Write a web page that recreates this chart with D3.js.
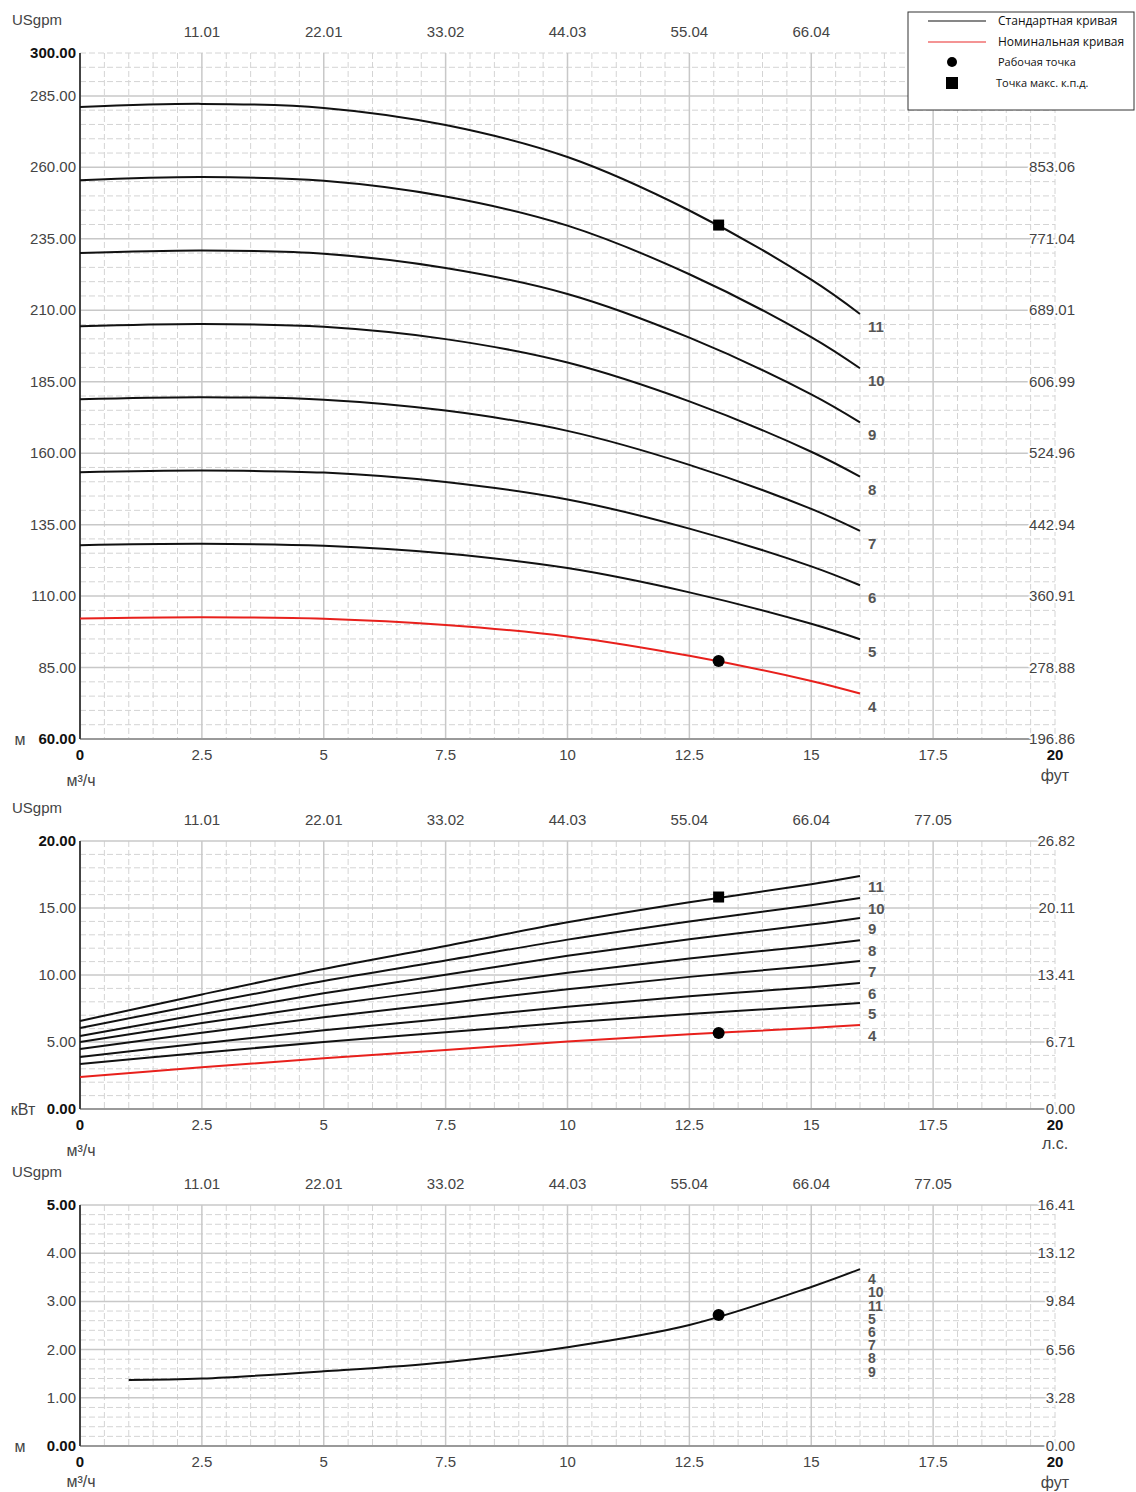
<!DOCTYPE html>
<html lang="ru">
<head>
<meta charset="UTF-8">
<title>Pump curves</title>
<script src="https://d3js.org/d3.v7.min.js"></script>
<style>
  body { margin: 0; padding: 0; background: #fff; }
  svg { display: block; font-family: "Liberation Sans", Arial, sans-serif; }
  .grid-major { stroke: #c8c8c8; stroke-width: 1.5; }
  .grid-minor { stroke: #d4d4d4; stroke-width: 1; stroke-dasharray: 6,3; }
  .tick { font-size: 15px; fill: #444; }
  .tick-bold { font-size: 15px; fill: #111; font-weight: bold; }
  .unit { font-size: 16px; fill: #444; }
  .halo { paint-order: stroke; stroke: #fff; stroke-width: 4px; stroke-linejoin: round; }
  .stage { font-size: 15px; font-weight: bold; fill: #555; }
  .stage-small { font-size: 14px; font-weight: bold; fill: #555; }
  .curve { fill: none; stroke: #111; stroke-width: 2; }
  .curve-red { fill: none; stroke: #e8201c; stroke-width: 2; }
  .legend { font-family: "Open Sans", sans-serif; fill: #111; }
</style>
</head>
<body>
<svg width="1136" height="1492"></svg>
<script>
// flow points, m3/h
const flow = [0, 2.5, 5, 7.5, 10, 12.5, 15, 16];
const stages = [11, 10, 9, 8, 7, 6, 5, 4];

// head, m (one row per stage, same order as stages)
const headCurves = [
  [281.1, 282.2, 280.8, 274.8, 263.6, 244.9, 220.7, 208.7],
  [255.5, 256.6, 255.3, 249.8, 239.6, 222.6, 200.6, 189.7],
  [230.0, 230.9, 229.8, 224.8, 215.7, 200.4, 180.6, 170.8],
  [204.4, 205.2, 204.2, 199.9, 191.7, 178.1, 160.5, 151.8],
  [178.9, 179.6, 178.7, 174.9, 167.8, 155.9, 140.5, 132.8],
  [153.3, 153.9, 153.2, 149.9, 143.8, 133.6, 120.4, 113.8],
  [127.8, 128.3, 127.6, 124.9, 119.8, 111.3, 100.3, 94.9],
  [102.2, 102.6, 102.1, 99.9, 95.9, 89.1, 80.3, 75.9]
];

// power, kW
const powerCurves = [
  [6.57, 8.55, 10.45, 12.17, 13.93, 15.43, 16.77, 17.39],
  [6.04, 7.84, 9.55, 11.08, 12.64, 14.00, 15.21, 15.75],
  [5.45, 7.08, 8.63, 10.02, 11.43, 12.67, 13.76, 14.25],
  [5.00, 6.41, 7.74, 8.94, 10.17, 11.23, 12.17, 12.60],
  [4.48, 5.69, 6.85, 7.88, 8.94, 9.86, 10.67, 11.04],
  [3.88, 4.90, 5.87, 6.74, 7.63, 8.41, 9.09, 9.40],
  [3.36, 4.20, 5.00, 5.72, 6.45, 7.09, 7.66, 7.91],
  [2.39, 3.11, 3.79, 4.40, 5.03, 5.57, 6.05, 6.27]
];

// NPSH, m
const npshFlow = [1, 2.5, 5, 7.5, 10, 12.5, 15, 16];
const npshValues = [1.37, 1.40, 1.55, 1.74, 2.05, 2.51, 3.30, 3.67];
const npshStageOrder = [4, 10, 11, 5, 6, 7, 8, 9];

// operating point and best efficiency point
const dutyPoint = { flow: 13.1, head: 87.3, power: 5.67, npsh: 2.72 };
const bepPoint = { flow: 13.1, head: 239.8, power: 15.82 };

const xTicks = [0, 2.5, 5, 7.5, 10, 12.5, 15, 17.5, 20];
const usgpmLabels = ["11.01", "22.01", "33.02", "44.03", "55.04", "66.04", "77.05"];

const headTicks = [60, 85, 110, 135, 160, 185, 210, 235, 260, 285, 300];
const headFtLabels = ["196.86", "278.88", "360.91", "442.94", "524.96", "606.99", "689.01", "771.04", "853.06", "", ""];
const powerTicks = [0, 5, 10, 15, 20];
const powerHpLabels = ["0.00", "6.71", "13.41", "20.11", "26.82"];
const npshTicks = [0, 1, 2, 3, 4, 5];
const npshFtLabels = ["0.00", "3.28", "6.56", "9.84", "13.12", "16.41"];

const legendItems = ["Стандартная кривая", "Номинальная кривая", "Рабочая точка", "Точка макс. к.п.д."];

const svg = d3.select("svg");
const x = d3.scaleLinear().domain([0, 20]).range([80, 1055]);
const line = (xs, ys, y) => d3.line()
    .x(function(d, i) { return x(xs[i]); })
    .y(function(d, i) { return y(ys[i]); })
    .curve(d3.curveCatmullRom.alpha(0.5))(ys);

function panel(cfg) {
    const g = svg.append("g");
    const y = d3.scaleLinear().domain(cfg.domain).range([cfg.bottom, cfg.top]);

    // minor grid
    const minorY = d3.range(cfg.domain[0], cfg.domain[1] + 1e-9, cfg.minor)
        .filter(v => cfg.ticks.indexOf(+v.toFixed(4)) < 0 || v === cfg.domain[1] && !cfg.topMajor);
    g.selectAll(".my").data(minorY).enter().append("line")
        .attr("class", "grid-minor")
        .attr("x1", x(0)).attr("x2", x(20))
        .attr("y1", d => y(d)).attr("y2", d => y(d));
    const minorX = d3.range(0.5, 20.01, 0.5).filter(v => v % 2.5 !== 0 || v === 20);
    g.selectAll(".mx").data(minorX).enter().append("line")
        .attr("class", "grid-minor")
        .attr("x1", d => x(d)).attr("x2", d => x(d))
        .attr("y1", cfg.top).attr("y2", cfg.bottom);

    // major grid
    const majorY = cfg.ticks.filter(v => v !== cfg.domain[0] && (v !== cfg.domain[1] || cfg.topMajor));
    g.selectAll(".My").data(majorY).enter().append("line")
        .attr("class", "grid-major")
        .attr("x1", x(0)).attr("x2", x(20))
        .attr("y1", d => y(d)).attr("y2", d => y(d));
    g.selectAll(".Mx").data(xTicks.slice(1, -1)).enter().append("line")
        .attr("class", "grid-major")
        .attr("x1", d => x(d)).attr("x2", d => x(d))
        .attr("y1", cfg.top).attr("y2", cfg.bottom);

    // axes lines
    g.append("line").attr("x1", x(0)).attr("x2", x(20)).attr("y1", cfg.bottom).attr("y2", cfg.bottom)
        .attr("stroke", "#9a9a9a").attr("stroke-width", 2);
    g.append("line").attr("x1", x(0)).attr("x2", x(0)).attr("y1", cfg.top).attr("y2", cfg.bottom)
        .attr("stroke", "#444").attr("stroke-width", 2);

    // left tick labels
    g.selectAll(".ly").data(cfg.ticks).enter().append("text")
        .attr("class", (d, i) => (i === 0 || i === cfg.ticks.length - 1) ? "tick-bold" : "tick")
        .attr("x", 76).attr("y", d => y(d) + 5)
        .attr("text-anchor", "end")
        .text(d => d.toFixed(2));
    // right tick labels
    g.selectAll(".ry").data(cfg.ticks.filter((d, i) => cfg.rightLabels[i] !== "")).enter().append("text")
        .attr("class", "tick halo")
        .attr("x", 1075).attr("y", d => y(d) + 5)
        .attr("text-anchor", "end")
        .text(d => cfg.rightLabels[cfg.ticks.indexOf(d)]);

    // top USgpm labels
    g.selectAll(".tx").data(usgpmLabels.slice(0, cfg.topCount)).enter().append("text")
        .attr("class", "tick")
        .attr("x", (d, i) => x(xTicks[i + 1])).attr("y", cfg.top - 16)
        .attr("text-anchor", "middle")
        .text(d => d);
    g.append("text").attr("class", "tick").attr("x", 12).attr("y", cfg.top - 28).text("USgpm");

    // bottom labels
    g.selectAll(".bx").data(xTicks).enter().append("text")
        .attr("class", (d, i) => (i === 0 || i === xTicks.length - 1) ? "tick-bold" : "tick")
        .attr("x", d => x(d)).attr("y", cfg.bottom + 21)
        .attr("text-anchor", "middle")
        .text(d => d);
    g.append("text").attr("class", "unit").attr("x", 81).attr("y", cfg.bottom + cfg.unitDy)
        .attr("text-anchor", "middle").text("м³/ч");
    g.append("text").attr("class", "unit").attr("x", 1055).attr("y", cfg.bottom + cfg.rightUnitDy)
        .attr("text-anchor", "middle").text(cfg.rightUnit);
    g.append("text").attr("class", "unit").attr("x", cfg.leftUnitX).attr("y", cfg.bottom + 6)
        .attr("text-anchor", "middle").text(cfg.leftUnit);

    return { g: g, y: y };
}

function marker(g, type, cx, cy) {
    if (type === "circle") {
        g.append("circle").attr("cx", cx).attr("cy", cy).attr("r", 6).attr("fill", "#000");
    } else {
        g.append("rect").attr("x", cx - 5.5).attr("y", cy - 5.5).attr("width", 11).attr("height", 11).attr("fill", "#000");
    }
}

// ---- Head panel
const p1 = panel({ top: 53, bottom: 739, domain: [60, 300], ticks: headTicks, minor: 5, topMajor: false, topCount: 6,
    rightLabels: headFtLabels, rightUnit: "фут", leftUnit: "м", leftUnitX: 20, unitDy: 47, rightUnitDy: 42 });
headCurves.forEach(function(vals, i) {
    p1.g.append("path").attr("class", stages[i] === 4 ? "curve-red" : "curve").attr("d", line(flow, vals, p1.y));
    p1.g.append("text").attr("class", "stage").attr("x", 868).attr("y", p1.y(vals[vals.length - 1]) + 18)
        .text(stages[i]);
});
marker(p1.g, "rect", x(bepPoint.flow), p1.y(bepPoint.head));
marker(p1.g, "circle", x(dutyPoint.flow), p1.y(dutyPoint.head));

// ---- Power panel
const p2 = panel({ top: 841, bottom: 1109, domain: [0, 20], ticks: powerTicks, minor: 1, topMajor: true, topCount: 7,
    rightLabels: powerHpLabels, rightUnit: "л.с.", leftUnit: "кВт", leftUnitX: 23, unitDy: 47, rightUnitDy: 40 });
powerCurves.forEach(function(vals, i) {
    p2.g.append("path").attr("class", stages[i] === 4 ? "curve-red" : "curve").attr("d", line(flow, vals, p2.y));
    p2.g.append("text").attr("class", "stage").attr("x", 868).attr("y", p2.y(vals[vals.length - 1]) + 16)
        .text(stages[i]);
});
marker(p2.g, "rect", x(bepPoint.flow), p2.y(bepPoint.power));
marker(p2.g, "circle", x(dutyPoint.flow), p2.y(dutyPoint.power));

// ---- NPSH panel
const p3 = panel({ top: 1205, bottom: 1446, domain: [0, 5], ticks: npshTicks, minor: 0.2, topMajor: true, topCount: 7,
    rightLabels: npshFtLabels, rightUnit: "фут", leftUnit: "м", leftUnitX: 20, unitDy: 41, rightUnitDy: 42 });
p3.g.append("path").attr("class", "curve").attr("d", line(npshFlow, npshValues, p3.y));
npshStageOrder.forEach(function(s, i) {
    p3.g.append("text").attr("class", "stage-small").attr("x", 868)
        .attr("y", p3.y(npshValues[npshValues.length - 1]) + 15 + i * 13.2)
        .text(s);
});
marker(p3.g, "circle", x(dutyPoint.flow), p3.y(dutyPoint.npsh));

// ---- Legend
const lg = svg.append("g");
lg.append("rect").attr("x", 908).attr("y", 12).attr("width", 226).attr("height", 98)
    .attr("fill", "#fff").attr("stroke", "#333").attr("stroke-width", 1);
lg.append("line").attr("x1", 928).attr("x2", 986).attr("y1", 21).attr("y2", 21).attr("stroke", "#111").attr("stroke-width", 1.2);
lg.append("line").attr("x1", 928).attr("x2", 986).attr("y1", 42).attr("y2", 42).attr("stroke", "#f07070").attr("stroke-width", 1.5);
lg.append("circle").attr("cx", 952).attr("cy", 62).attr("r", 5).attr("fill", "#000");
lg.append("rect").attr("x", 946).attr("y", 77).attr("width", 12).attr("height", 12).attr("fill", "#000");
lg.selectAll(".lt").data(legendItems).enter().append("text")
    .attr("class", "legend")
    .attr("x", (d, i) => i === 3 ? 996 : 998)
    .attr("y", (d, i) => [25, 46, 66, 87][i])
    .attr("font-size", (d, i) => i < 2 ? 12 : 11)
    .text(d => d);
</script>
</body>
</html>
